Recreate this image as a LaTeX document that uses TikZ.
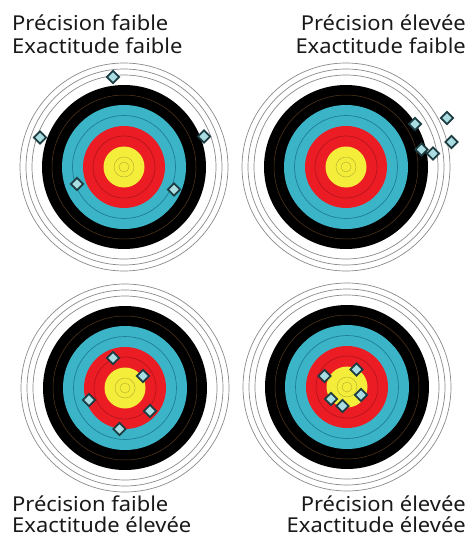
\documentclass[tikz,border=0pt]{standalone}
\usepackage{fontspec}
\setmainfont{Noto Sans}
\newfontfamily\lblfont{Noto Sans}[FakeStretch=1.07]
\definecolor{tcyan}{HTML}{3CB4C8}
\definecolor{tcyanline}{HTML}{1E7F95}
\definecolor{tred}{HTML}{EC1C24}
\definecolor{tredline}{HTML}{B8141C}
\definecolor{tyellow}{HTML}{F4EE3A}
\definecolor{tyelline}{HTML}{B9B830}
\definecolor{tgray}{HTML}{8A8A8A}
\definecolor{dfill}{HTML}{A9DDE2}
\definecolor{dline}{HTML}{1C3C42}
\usetikzlibrary{shapes.geometric}
\tikzset{
  lbl/.style={font=\lblfont\fontsize{20.5}{22}\selectfont, inner sep=0pt, text=black!90},
  hit/.style={diamond, draw=dline, fill=dfill, line width=1.8pt, minimum size=13pt, inner sep=0pt},
}
\newcommand{\mytarget}[2]{%
  \fill[white] (#1) circle (104);
  \draw[tgray, line width=0.7pt] (#1) circle (104);
  \draw[tgray, line width=0.7pt] (#1) circle (98);
  \draw[tgray, line width=0.7pt] (#1) circle (92);
  \fill[black] (#1) circle (82);
  \draw[black!55!brown, line width=0.5pt] (#1) circle (72);
  \fill[tcyan] (#1) circle (62);
  \draw[tcyanline, line width=0.7pt] (#1) circle (51.5);
  \fill[tred] (#1) circle (41);
  \draw[tredline, line width=0.7pt] (#1) circle (31);
  \fill[tyellow] (#1) circle (20.5);
  \draw[tyelline, line width=0.5pt] (#1) circle (10);
  \draw[tyelline, line width=0.5pt] (#1) circle (5);
  \coordinate (#2) at (#1);
}
\begin{document}
\begin{tikzpicture}[x=1pt,y=-1pt]
\useasboundingbox (0,0) rectangle (470,538);
\fill[white] (0,0) rectangle (470,538);
% targets
\mytarget{124,167}{ta}
\mytarget{346,167}{tb}
\mytarget{125,388}{tc}
\mytarget{347,387}{td}
% labels
\node[lbl, anchor=base west] (la1) at (12,30) {Précision faible};
\node[lbl, anchor=base west] (la2) at (12,53) {Exactitude faible};
\node[lbl, anchor=base east] (lb1) at (466,30) {Précision élevée};
\node[lbl, anchor=base east] (lb2) at (466,53) {Exactitude faible};
\node[lbl, anchor=base west] (lc1) at (12,511) {Précision faible};
\node[lbl, anchor=base west] (lc2) at (12,532) {Exactitude élevée};
\node[lbl, anchor=base east] (ld1) at (466,511) {Précision élevée};
\node[lbl, anchor=base east] (ld2) at (466,532) {Exactitude élevée};
% hits
\node[hit] (a1) at (113,77) {};
\node[hit] (a2) at (40,137.5) {};
\node[hit] (a3) at (204,136.5) {};
\node[hit] (a4) at (77,184) {};
\node[hit] (a5) at (174,189.5) {};
\node[hit] (b1) at (415,124) {};
\node[hit] (b2) at (447,118) {};
\node[hit] (b3) at (451.5,142) {};
\node[hit] (b4) at (421.5,149.5) {};
\node[hit] (b5) at (433,153.5) {};
\node[hit] (c1) at (113,358) {};
\node[hit] (c2) at (143,376) {};
\node[hit] (c3) at (89,400) {};
\node[hit] (c4) at (150,411) {};
\node[hit] (c5) at (119.5,429) {};
\node[hit] (d1) at (324.5,376) {};
\node[hit] (d2) at (356.5,369.5) {};
\node[hit] (d3) at (361,395) {};
\node[hit] (d4) at (331,399) {};
\node[hit] (d5) at (342.5,406) {};
\end{tikzpicture}
\end{document}
